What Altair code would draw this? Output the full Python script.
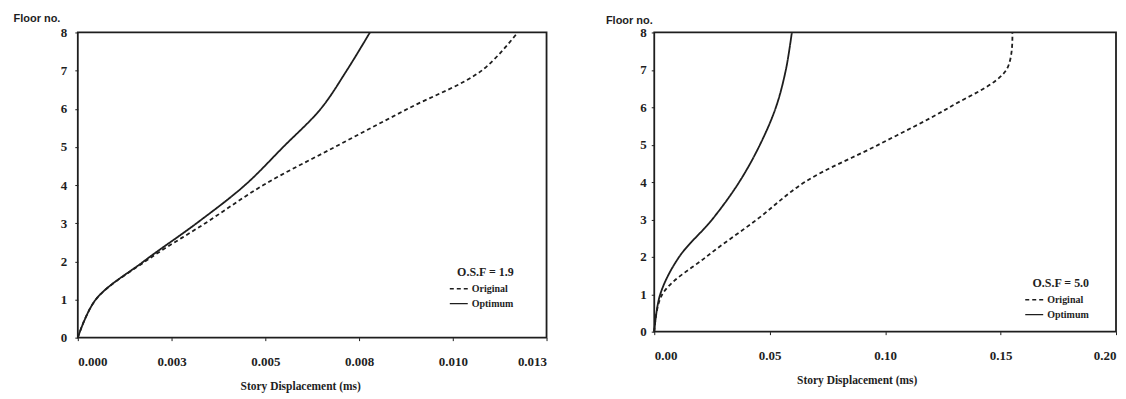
import altair as alt
import pandas as pd

# ---- data ----
floors = [0, 1, 2, 3, 4, 5, 6, 7, 8]
series_names = ["Original", "Optimum"]

left_original = [0.0, 0.00048, 0.0018, 0.0034, 0.00495, 0.00686, 0.0088, 0.01077, 0.01173]
left_optimum = [0.0, 0.00048, 0.00176, 0.00317, 0.00446, 0.00548, 0.00648, 0.00717, 0.00779]
right_original = [0.0, 0.0035, 0.0225, 0.0445, 0.0652, 0.0972, 0.1279, 0.1525, 0.1551]
right_optimum = [0.0, 0.0026, 0.0108, 0.0251, 0.0368, 0.0458, 0.0527, 0.057, 0.0596]

left_xticks = [0.0, 0.0025, 0.005, 0.0075, 0.01, 0.0125]
left_xlabels = ["0.000", "0.003", "0.005", "0.008", "0.010", "0.013"]
right_xticks = [0.0, 0.05, 0.1, 0.15, 0.2]
right_xlabels = ["0.00", "0.05", "0.10", "0.15", "0.20"]
y_ticks = [0, 1, 2, 3, 4, 5, 6, 7, 8]

left_legend_title = "O.S.F = 1.9"
right_legend_title = "O.S.F = 5.0"
x_title = "Story Displacement (ms)"
y_title = "Floor no."

SERIF = "Liberation Serif"
SANS = "Liberation Sans"
INK = "#1e1e1e"


def make_df(orig, opt):
    rows = []
    for name, vals in zip(series_names, [orig, opt]):
        for f, v in zip(floors, vals):
            rows.append({"series": name, "floor": f, "disp": v})
    return pd.DataFrame(rows)


def label_expr(vals, labels):
    arr_l = "[" + ",".join("'" + l + "'" for l in labels) + "]"
    arr_v = "[" + ",".join(repr(v) for v in vals) + "]"
    return arr_l + "[indexof(" + arr_v + ", datum.value)]"


def panel(orig, opt, xmax, xticks, xlabels, legend_title, w, h,
          ytitle_x, ytitle_y, ylabel_pad, xtitle_x, leg_x, leg_y):
    df = make_df(orig, opt)
    return alt.Chart(df).mark_line(strokeWidth=1.8, color=INK,
                                   interpolate="catmull-rom").encode(
        x=alt.X("disp:Q",
                scale=alt.Scale(domain=[0, xmax], nice=False, zero=True),
                axis=alt.Axis(values=xticks, labelExpr=label_expr(xticks, xlabels),
                              title=x_title, tickSize=3, labelPadding=15,
                              titlePadding=12, titleX=xtitle_x,
                              labelFont=SERIF, labelFontSize=13, labelFontWeight="bold",
                              titleFont=SERIF, titleFontSize=11.5, titleFontWeight="bold")),
        y=alt.Y("floor:Q",
                scale=alt.Scale(domain=[0, 8], nice=False),
                axis=alt.Axis(values=y_ticks, format="d", title=y_title,
                              tickSize=3, labelPadding=ylabel_pad,
                              titleAngle=0, titleX=ytitle_x, titleY=ytitle_y,
                              titleAlign="left", titleBaseline="middle",
                              labelFont=SERIF, labelFontSize=13, labelFontWeight="bold",
                              titleFont=SANS, titleFontSize=11, titleFontWeight="bold")),
        strokeDash=alt.StrokeDash(
            "series:N",
            scale=alt.Scale(domain=series_names, range=[[4, 3], [1, 0]]),
            legend=alt.Legend(orient="none", legendX=leg_x, legendY=leg_y,
                              title=legend_title, titleAnchor="end",
                              titleFont=SERIF, titleFontSize=12, titleFontWeight="bold",
                              titleColor=INK, titlePadding=0,
                              labelFont=SERIF, labelFontSize=10, labelFontWeight="bold",
                              labelColor=INK, labelOffset=3,
                              symbolType="stroke", symbolSize=324,
                              symbolStrokeWidth=1.3, symbolStrokeColor=INK,
                              rowPadding=-8, padding=0)),
        order=alt.Order("floor:Q"),
    ).properties(width=w, height=h)


left = panel(left_original, left_optimum, 0.0125, left_xticks, left_xlabels,
             left_legend_title, 470, 306, -65, -14, 8, 223, 372, 235)
right = panel(right_original, right_optimum, 0.2, right_xticks, right_xlabels,
              right_legend_title, 463, 300, -49, -12, 5, 203, 371, 246)

chart = alt.hconcat(left, right, spacing=56).resolve_scale(
    strokeDash="independent").resolve_legend(strokeDash="independent").properties(
    padding={"left": 4, "top": 3, "right": 0, "bottom": 0},
    background="white",
).configure_view(stroke=INK, strokeWidth=1.8).configure_axis(
    grid=False, domain=False, tickColor=INK, labelColor=INK, titleColor=INK)

chart.save("out.html", embed_options={"renderer": "svg", "actions": False})
